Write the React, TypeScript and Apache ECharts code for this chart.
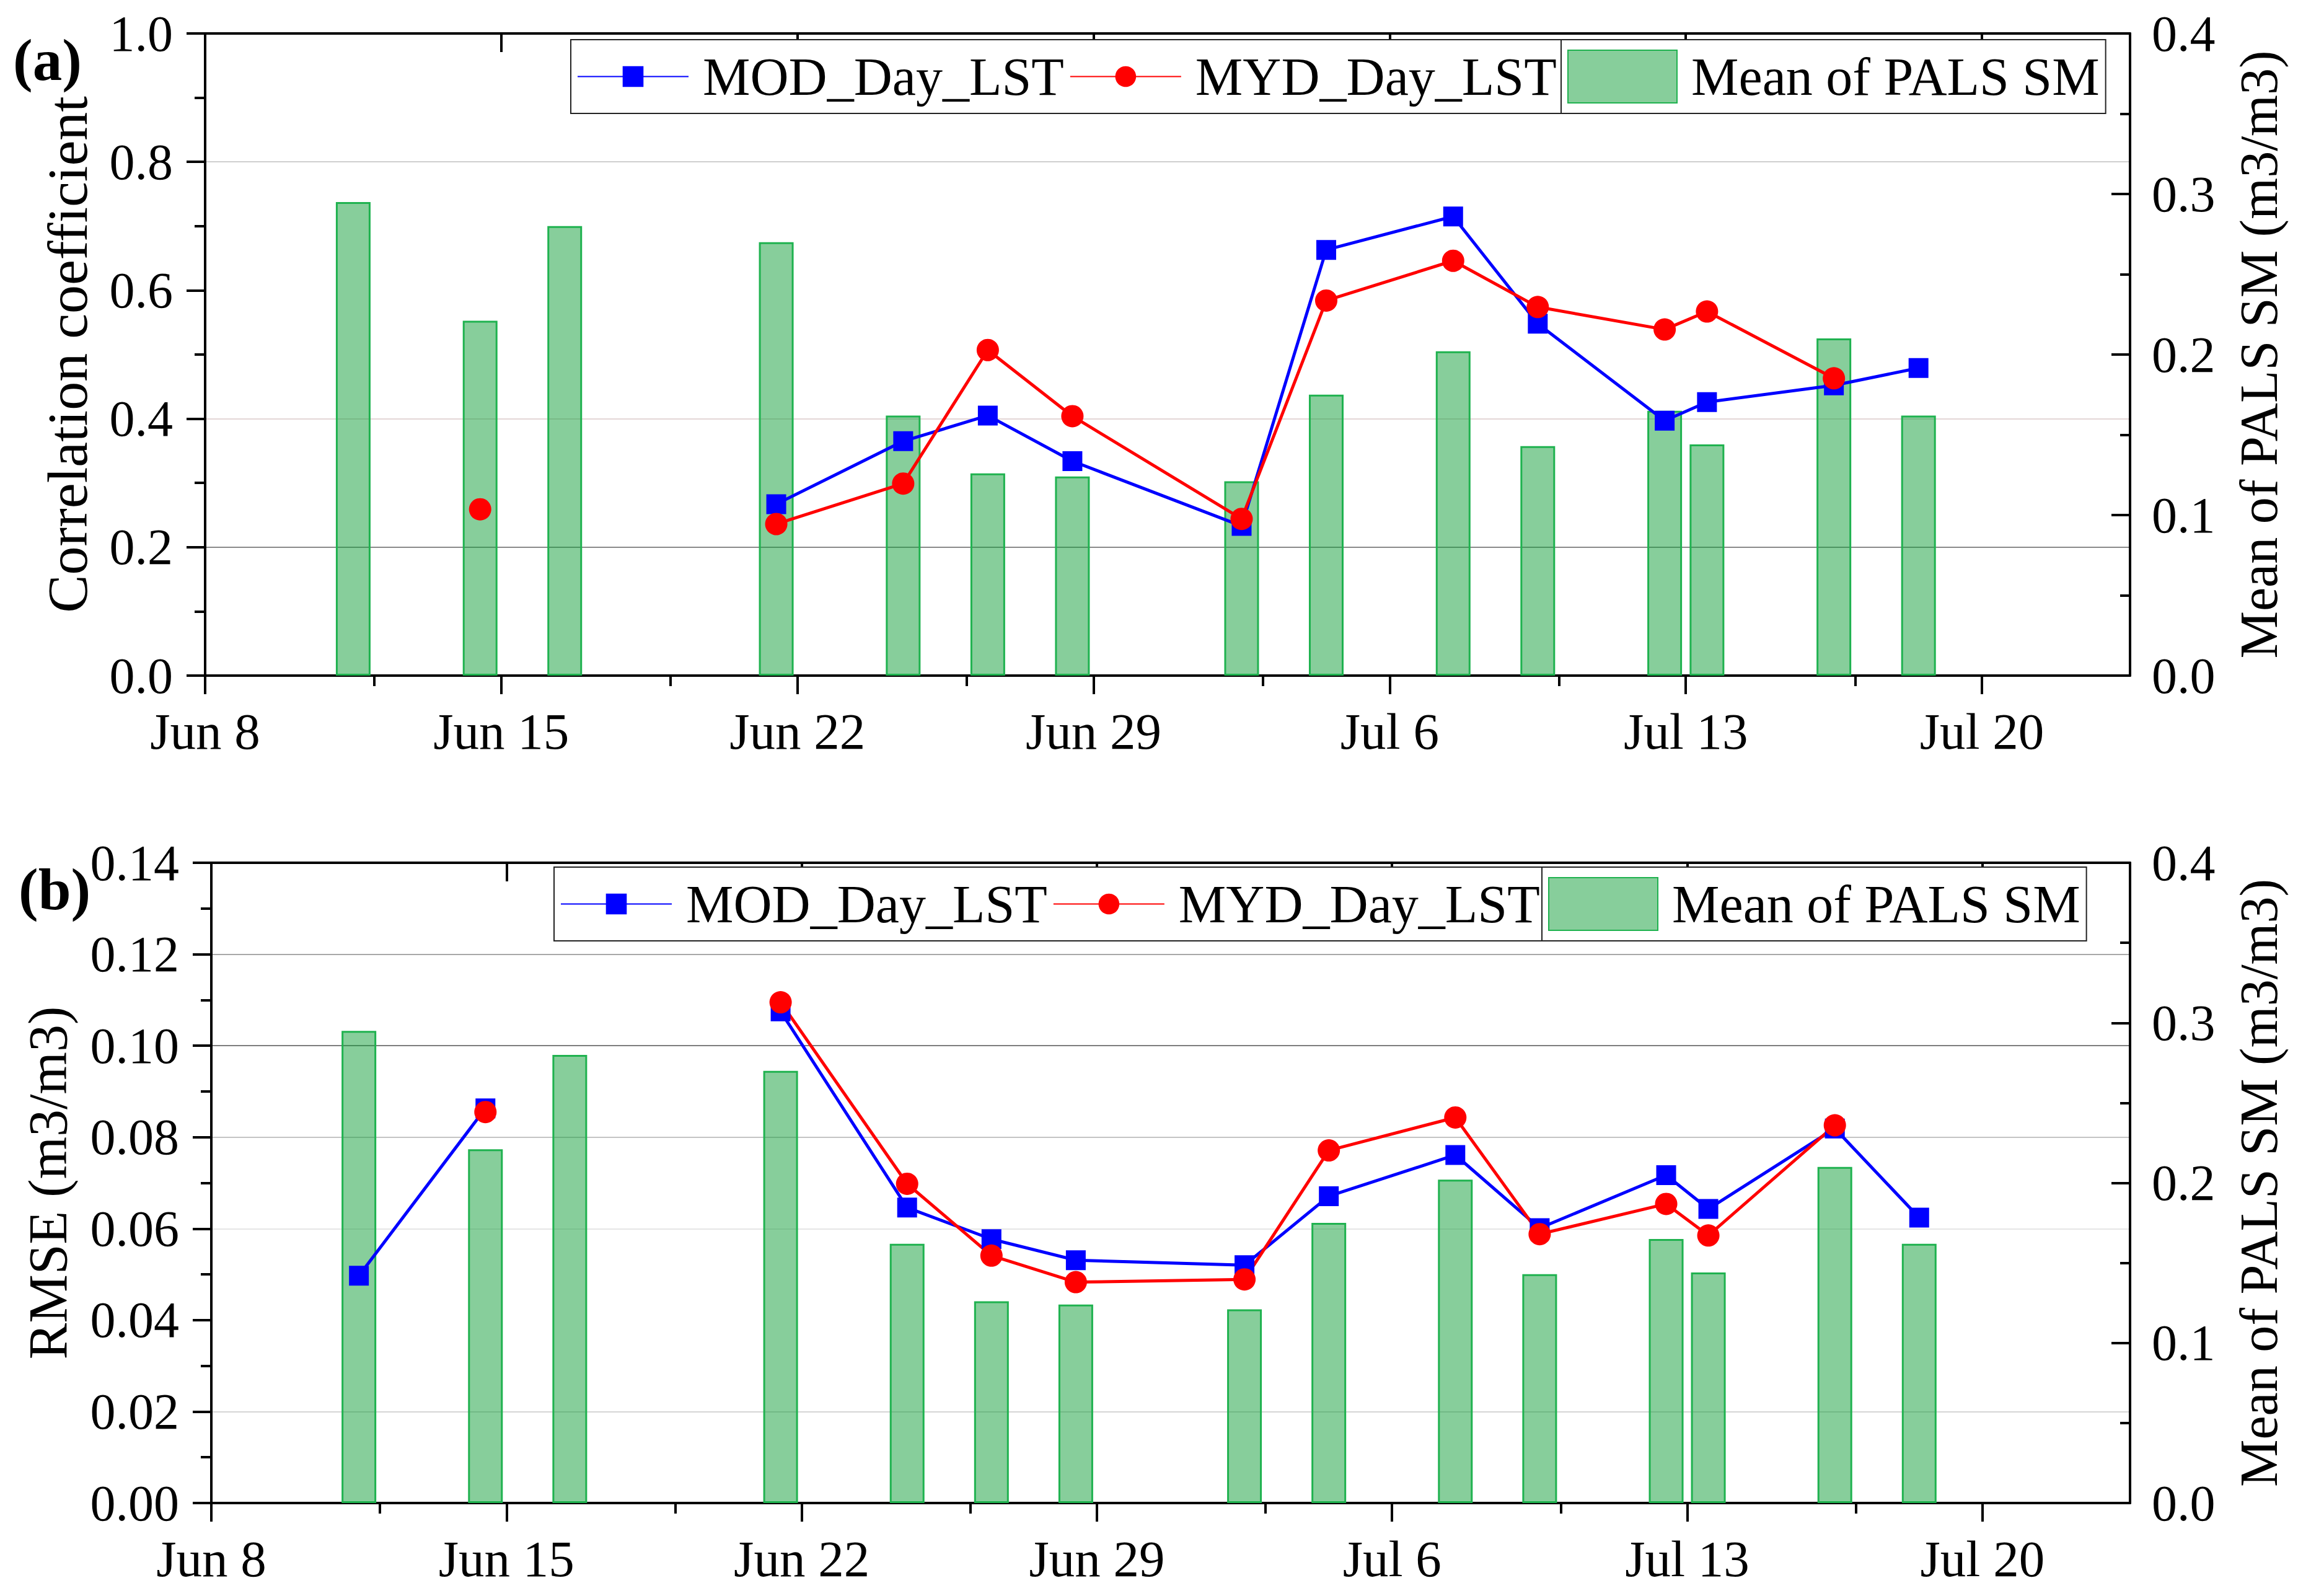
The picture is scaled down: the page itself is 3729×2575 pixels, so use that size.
import React, { useEffect, useRef } from 'react';
import * as echarts from 'echarts';

// ---- data ----
const tickLabels = ['Jun 8', 'Jun 15', 'Jun 22', 'Jun 29', 'Jul 6', 'Jul 13', 'Jul 20'];
const majorTickDays = [0, 7, 14, 21, 28, 35, 42];
const minorTickDays = [4, 11, 18, 25, 32, 39];
// observation times, in days after Jun 8 00:00
const obsDays = [3.5, 6.5, 8.5, 13.5, 16.5, 18.5, 20.5, 24.5, 26.5, 29.5, 31.5, 34.5, 35.5, 38.5, 40.5];
const palsSM = [0.295, 0.221, 0.28, 0.27, 0.162, 0.126, 0.124, 0.121, 0.175, 0.202, 0.143, 0.165, 0.144, 0.21, 0.162];
const corrMOD = [null, null, null, 0.267, 0.365, 0.405, 0.334, 0.233, 0.663, 0.715, 0.548, 0.397, 0.426, 0.452, 0.479];
const corrMYD = [null, 0.259, null, 0.236, 0.299, 0.507, 0.404, 0.244, 0.584, 0.646, 0.574, 0.539, 0.567, 0.463, null];
const rmseMOD = [0.0497, 0.0863, null, 0.1075, 0.0646, 0.0577, 0.0531, 0.052, 0.0671, 0.0761, 0.0601, 0.0717, 0.0643, 0.0819, 0.0624];
const rmseMYD = [null, 0.0855, null, 0.1095, 0.0698, 0.0541, 0.0483, 0.0489, 0.0771, 0.0843, 0.0588, 0.0654, 0.0585, 0.0826, null];

const FONT = 'Liberation Serif';
const X_MAX = 45.5;

function pairs(vals: (number | null)[]) {
  return obsDays.map((d, i) => [d, vals[i] == null ? '-' : vals[i]]);
}

function xAxesFor(g: number) {
  const base = { gridIndex: g, type: 'value', min: 0, max: X_MAX, splitLine: { show: false } };
  const tickLine = { color: '#000', width: 4 };
  return [
    {
      ...base, position: 'bottom',
      axisLine: { show: true, onZero: false, lineStyle: { color: '#000', width: 4 } },
      axisTick: { show: true, customValues: majorTickDays, length: 30, lineStyle: tickLine },
      axisLabel: {
        show: true, customValues: majorTickDays, margin: 48, fontSize: 83, fontFamily: FONT, color: '#000',
        formatter: (v: number) => tickLabels[Math.round(v / 7)] ?? '',
      },
    },
    {
      ...base, position: 'bottom',
      axisLine: { show: false },
      axisTick: { show: true, customValues: minorTickDays, length: 17, lineStyle: tickLine },
      axisLabel: { show: false },
    },
    {
      ...base, position: 'top',
      axisLine: { show: true, onZero: false, lineStyle: { color: '#000', width: 4 } },
      axisTick: { show: true, inside: true, customValues: majorTickDays, length: 30, lineStyle: tickLine },
      axisLabel: { show: false },
    },
    {
      ...base, position: 'top',
      axisLine: { show: false },
      axisTick: { show: true, inside: true, customValues: minorTickDays, length: 17, lineStyle: tickLine },
      axisLabel: { show: false },
    },
  ];
}

function yAxesFor(g: number, o: any) {
  return [
    {
      gridIndex: g, type: 'value', position: 'left', min: 0, max: o.max, interval: o.interval,
      name: o.name, nameLocation: 'middle', nameGap: o.nameGap,
      nameTextStyle: { fontSize: o.nameSize, fontFamily: FONT, color: '#000' },
      axisLine: { show: true, onZero: false, lineStyle: { color: '#000', width: 4 } },
      axisTick: { show: true, length: 30, lineStyle: { color: '#000', width: 4 } },
      minorTick: { show: true, splitNumber: 2, length: 17, lineStyle: { color: '#000', width: 4 } },
      axisLabel: {
        fontSize: 82, fontFamily: FONT, color: '#000', margin: 52,
        formatter: (v: number) => v.toFixed(o.digits),
      },
      splitLine: { show: true, lineStyle: { color: o.gridColors, width: 2 } },
    },
    {
      gridIndex: g, type: 'value', position: 'right', min: 0, max: 0.4, interval: 0.1,
      name: 'Mean of PALS SM (m3/m3)', nameLocation: 'middle', nameGap: 165,
      nameTextStyle: { fontSize: 86, fontFamily: FONT, color: '#000' },
      axisLine: { show: true, onZero: false, lineStyle: { color: '#000', width: 4 } },
      axisTick: { show: true, inside: true, length: 30, lineStyle: { color: '#000', width: 4 } },
      minorTick: { show: true, splitNumber: 2, length: 16, lineStyle: { color: '#000', width: 4 } },
      axisLabel: {
        fontSize: 82, fontFamily: FONT, color: '#000', margin: 35,
        formatter: (v: number) => v.toFixed(1),
      },
      splitLine: { show: false },
    },
  ];
}

function seriesFor(g: number, mod: (number | null)[], myd: (number | null)[]) {
  return [
    {
      name: 'MOD_Day_LST', type: 'line', xAxisIndex: 4 * g, yAxisIndex: 2 * g,
      data: pairs(mod), connectNulls: false, symbol: 'rect', symbolSize: 32,
      lineStyle: { color: '#0000ff', width: 5 }, itemStyle: { color: '#0000ff' },
    },
    {
      name: 'MYD_Day_LST', type: 'line', xAxisIndex: 4 * g, yAxisIndex: 2 * g,
      data: pairs(myd), connectNulls: false, symbol: 'circle', symbolSize: 36,
      lineStyle: { color: '#ff0000', width: 5 }, itemStyle: { color: '#ff0000' },
    },
    {
      name: 'Mean of PALS SM', type: 'bar', xAxisIndex: 4 * g, yAxisIndex: 2 * g + 1,
      data: obsDays.map((d, i) => [d, palsSM[i]]), barWidth: 56,
      itemStyle: { color: 'rgba(15,157,55,0.5)', borderColor: '#1fb24f', borderWidth: 3 },
    },
  ];
}

function legendsFor(top: number, left1: number, left2: number) {
  const common = {
    orient: 'horizontal', top, padding: [10, 10, 10, 10], borderColor: '#222', borderWidth: 2,
    backgroundColor: '#fff', selectedMode: false,
    textStyle: { fontSize: 86, fontFamily: FONT, color: '#000', lineHeight: 99, padding: [0, 0, 0, 18] },
  };
  return [
    { ...common, left: left1, data: ['MOD_Day_LST', 'MYD_Day_LST'], itemWidth: 179, itemHeight: 42, itemGap: 9 },
    { ...common, left: left2, data: ['Mean of PALS SM'], itemWidth: 176, itemHeight: 85, icon: 'rect' },
  ];
}

export default function App() {
  const ref = useRef<HTMLDivElement>(null);
  useEffect(() => {
    if (!ref.current) return;
    const chart = echarts.init(ref.current, null, { renderer: 'svg' });
    const option: any = {
      animation: false,
      backgroundColor: '#fff',
      textStyle: { fontFamily: FONT },
      grid: [
        { left: 331, top: 54, width: 3106, height: 1036 },
        { left: 341, top: 1392, width: 3096, height: 1033 },
      ],
      xAxis: [...xAxesFor(0), ...xAxesFor(1)],
      yAxis: [
        ...yAxesFor(0, {
          max: 1, interval: 0.2, digits: 1, name: 'Correlation coefficient', nameGap: 176, nameSize: 92,
          gridColors: ['rgba(0,0,0,0)', '#8a8a8a', '#e3d6d6', 'rgba(0,0,0,0)', '#cfcfcf', 'rgba(0,0,0,0)'],
        }),
        ...yAxesFor(1, {
          max: 0.14, interval: 0.02, digits: 2, name: 'RMSE (m3/m3)', nameGap: 220, nameSize: 88,
          gridColors: ['rgba(0,0,0,0)', '#d5d5d5', 'rgba(0,0,0,0)', '#e6e6e6', '#c4c4c4', '#7d7d7d', '#a8a8a8', 'rgba(0,0,0,0)'],
        }),
      ],
      legend: [...legendsFor(64, 921, 2519), ...legendsFor(1399, 894, 2488)],
      series: [...seriesFor(0, corrMOD, corrMYD), ...seriesFor(1, rmseMOD, rmseMYD)],
      graphic: [
        { type: 'text', x: 21, y: 97, style: { text: '(a)', fontSize: 95, fontWeight: 'bold', fontFamily: FONT, fill: '#000', verticalAlign: 'middle' } },
        { type: 'text', x: 30, y: 1435, style: { text: '(b)', fontSize: 95, fontWeight: 'bold', fontFamily: FONT, fill: '#000', verticalAlign: 'middle' } },
      ],
    };
    chart.setOption(option);
    return () => chart.dispose();
  }, []);
  return <div ref={ref} style={{ position: 'fixed', left: 0, top: 0, width: 3729, height: 2575, background: '#fff' }} />;
}
